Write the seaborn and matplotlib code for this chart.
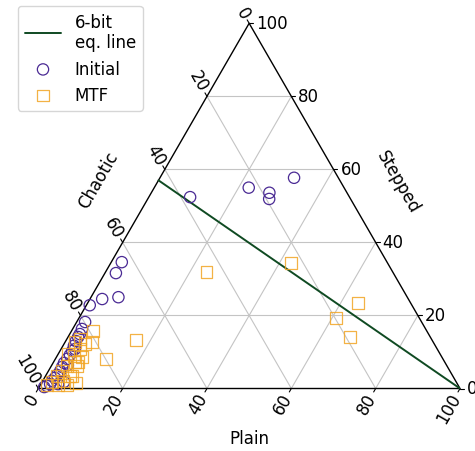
import numpy as np
import pandas as pd
import matplotlib
matplotlib.use("Agg")
import matplotlib.pyplot as plt
import seaborn as sns

sns.set_style("white")
plt.rcParams["font.family"] = ["DejaVu Sans"]
plt.rcParams["text.color"] = "black"
plt.rcParams["legend.labelcolor"] = "black"

# ---- data (percent) ----
init_plain = [9.8, 22.4, 28.0, 28.8, 31.8, 2.5, 2.6, 2.9, 6.5, 0.8,
              2.0, 2.2, 2.4, 2.4, 2.4, 2.6, 2.9, 2.9, 2.8, 2.6,
              2.7, 2.8, 2.6, 2.5, 2.2, 2.2, 1.7, 1.2, 4.1, 5.2, 3.3, 3.8]
init_stepped = [52.4, 55.0, 53.6, 51.9, 57.7, 34.6, 31.6, 24.5, 25.0, 22.8,
                18.2, 16.3, 14.9, 14.1, 13.0, 11.7, 10.3, 9.2, 8.1, 7.0,
                5.9, 4.8, 3.7, 2.9, 2.1, 1.2, 0.7, 0.4, 1.2, 1.8, 10.8, 6.4]
mtf_plain = [24.0, 42.7, 64.1, 60.9, 66.9, 16.5, 12.0, 5.1, 6.4, 3.1,
             4.0, 6.1, 6.3, 2.3, 4.5, 2.3, 5.1, 3.7, 3.2, 2.7,
             5.8, 4.8, 2.4, 5.8, 6.1, 5.0, 1.6, 4.2, 6.3, 8.2]
mtf_stepped = [31.9, 34.4, 23.4, 19.3, 14.1, 13.3, 8.1, 15.8, 12.7, 13.6,
               8.9, 6.2, 3.4, 12.7, 10.8, 9.5, 7.3, 6.2, 4.8, 3.4,
               3.4, 2.1, 1.8, 7.3, 8.6, 12.2, 1.0, 1.0, 1.0, 1.5]
eq_plain = [0, 100]
eq_stepped = [57, 0]
tick_values = [0, 20, 40, 60, 80, 100]
axis_names = ["Plain", "Stepped", "Chaotic"]
series_names = ["Initial", "MTF"]
line_name = "6-bit\neq. line"

H = np.sqrt(3) / 2


def tern(p, s):
    p = np.asarray(p, float) / 100
    s = np.asarray(s, float) / 100
    return p + s / 2, s * H


W_PX, H_PX = 475, 452
fig = plt.figure(figsize=(W_PX / 100, H_PX / 100), dpi=100)
x0, y0b, wpx = 38.3, 389.5, 421.7
ax = fig.add_axes([x0 / W_PX, (H_PX - y0b) / H_PX, wpx / W_PX, wpx * H / H_PX])
ax.set_xlim(0, 1)
ax.set_ylim(0, H)
ax.axis("off")

px = 1 / wpx  # one pixel in data units

# grid
grid_kw = dict(color="#c4c4c4", lw=0.8, zorder=0)
for v in tick_values[1:-1]:
    ax.plot(*tern([0, 100 - v], [v, v]), **grid_kw)          # const stepped
    ax.plot(*tern([v, v], [0, 100 - v]), **grid_kw)          # const plain
    ax.plot(*tern([100 - v, 0], [0, 100 - v]), **grid_kw)    # const chaotic

# triangle border
bx, by = tern([0, 100, 0, 0], [0, 0, 100, 0])
ax.plot(bx, by, color="black", lw=1.0, zorder=1, clip_on=False)

# ticks and labels
tl = 4 * px
off = 7 * px
fs = 12
for v in tick_values:
    # bottom: Plain
    tx, ty = tern(v, 0)
    d = np.array([-0.5, -H])
    ax.plot([tx, tx + d[0] * tl], [ty, ty + d[1] * tl], color="black", lw=0.8, clip_on=False)
    ax.text(tx + d[0] * off, ty + d[1] * off, str(v), rotation=60, ha="right", va="center",
            rotation_mode="anchor", fontsize=fs)
    # right: Stepped
    tx, ty = tern(100 - v, v)
    ax.plot([tx, tx + tl], [ty, ty], color="black", lw=0.8, clip_on=False)
    ax.text(tx + off, ty, str(v), ha="left", va="center", fontsize=fs)
    # left: Chaotic
    tx, ty = tern(0, 100 - v)
    d = np.array([-0.5, H])
    ax.plot([tx, tx + d[0] * tl], [ty, ty + d[1] * tl], color="black", lw=0.8, clip_on=False)
    ax.text(tx + d[0] * off, ty + d[1] * off, str(v), rotation=-60, ha="right", va="center",
            rotation_mode="anchor", fontsize=fs)

# axis labels
ax.text(0.5, -50 * px, axis_names[0], ha="center", va="center", fontsize=fs)
ax.text((398 - x0) * px, (y0b - 182) * px, axis_names[1], ha="center", va="center",
        rotation=-60, fontsize=fs)
ax.text((98 - x0) * px, (y0b - 180) * px, axis_names[2], ha="center", va="center",
        rotation=60, fontsize=fs)

# eq line
lx, ly = tern(eq_plain, eq_stepped)
sns.lineplot(x=lx, y=ly, sort=False, color="#0f4a22", lw=1.4, ax=ax, label=line_name,
             legend=False, zorder=3)

# scatter
ix, iy = tern(init_plain, init_stepped)
mx, my = tern(mtf_plain, mtf_stepped)
df_i = pd.DataFrame({"x": ix, "y": iy})
df_m = pd.DataFrame({"x": mx, "y": my})
sns.scatterplot(data=df_i, x="x", y="y", marker="o", s=66, facecolors="none",
                edgecolor="#4a2a94", color="#4a2a94", linewidth=0.9, ax=ax,
                label=series_names[0], legend=False, clip_on=False, zorder=4)
sns.scatterplot(data=df_m, x="x", y="y", marker="s", s=68, facecolors="none",
                edgecolor="#f2a524", color="#f2a524", linewidth=0.9, alpha=0.85, ax=ax,
                label=series_names[1], legend=False, clip_on=False, zorder=5)

handles, labels = ax.get_legend_handles_labels()
fig.legend(handles, labels, loc="upper left", bbox_to_anchor=(18 / W_PX, 1 - 7 / H_PX),
           borderaxespad=0, fontsize=fs, handlelength=2.2, frameon=True)

fig.savefig("out.png", dpi=100)
